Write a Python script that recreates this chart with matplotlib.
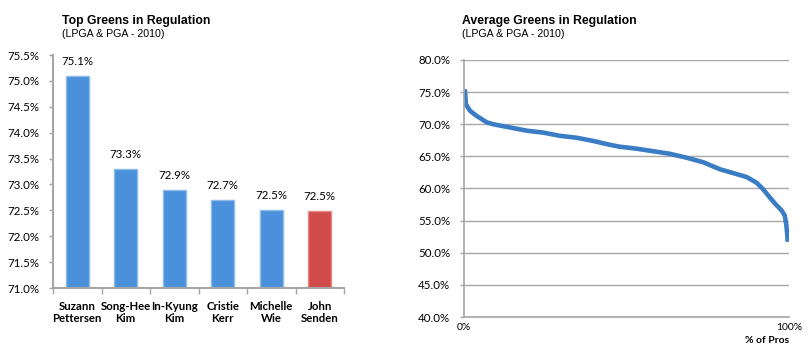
import matplotlib
matplotlib.use("Agg")
import matplotlib.pyplot as plt

# ---- data ----
players = ["Suzann\nPettersen", "Song-Hee\nKim", "In-Kyung\nKim", "Cristie\nKerr", "Michelle\nWie", "John\nSenden"]
gir_top = [75.1, 73.3, 72.9, 72.7, 72.5, 72.48]
bar_labels = ["75.1%", "73.3%", "72.9%", "72.7%", "72.5%", "72.5%"]

pct_pros = [0.0, 0.2, 0.5, 1.75, 3.8, 6.9, 8.9, 13.0, 19.2, 24.3, 29.4, 34.6, 39.7, 44.8, 47.9,
            53.0, 58.2, 63.3, 68.4, 73.5, 78.7, 82.8, 86.9, 90.0, 92.0, 94.1, 95.6, 97.7,
            98.7, 99.2, 99.5, 99.6]
gir_avg = [75.3, 75.2, 73.1, 72.1, 71.3, 70.3, 70.0, 69.6, 69.0, 68.7, 68.2, 67.9, 67.4, 66.8, 66.5,
           66.2, 65.8, 65.4, 64.8, 64.1, 63.0, 62.4, 61.8, 60.9, 59.9, 58.6, 57.7, 56.6,
           55.8, 54.2, 52.6, 51.7]

left_yticks = [71.0, 71.5, 72.0, 72.5, 73.0, 73.5, 74.0, 74.5, 75.0, 75.5]
right_yticks = [40, 45, 50, 55, 60, 65, 70, 75, 80]

BLUE = "#4A90DA"
BLUE_EDGE = "#8DBBEA"
RED = "#D24B4B"
RED_EDGE = "#E58A8A"
LINE = "#3B7DC4"
SPINE = "#A6A6A6"
GRID = "#A8A8A8"

TICKFONT = "Lato"
TITLEFONT = "Liberation Sans"

fig = plt.figure(figsize=(8.10, 3.59), dpi=100)

# ---- left bar chart ----
ax1 = fig.add_axes([53 / 810, 1 - 288 / 359, 291 / 810, 233 / 359])
colors = [BLUE] * 5 + [RED]
edges = [BLUE_EDGE] * 5 + [RED_EDGE]
x = list(range(len(players)))
bars = ax1.bar(x, gir_top, width=0.48, color=colors, edgecolor=edges, linewidth=1.0, bottom=0)
ax1.set_xlim(-0.5, len(players) - 0.5)
ax1.set_yticks(left_yticks)
ax1.set_yticklabels([f"{v:.1f}%" for v in left_yticks], fontsize=8.3, family=TICKFONT)
for b, lab in zip(bars, bar_labels):
    ax1.annotate(lab, (b.get_x() + b.get_width() / 2, b.get_height()),
                 xytext=(0, 6.5), textcoords="offset points", ha="center", va="bottom",
                 fontsize=8.3, family=TICKFONT)
ax1.set_xticks([i - 0.5 for i in range(len(players) + 1)], minor=False)
ax1.set_xticklabels([""] * (len(players) + 1))
ax1.set_xticks(x, minor=True)
ax1.set_xticklabels(players, minor=True, fontsize=8.2, fontweight="bold", family=TICKFONT,
                    linespacing=1.2)
ax1.tick_params(axis="x", which="minor", length=0, pad=9)
ax1.tick_params(axis="x", which="major", length=4, width=1, color=SPINE, direction="out")
ax1.tick_params(axis="y", length=3, width=1, color=SPINE, direction="out", pad=7)
for s in ["top", "right"]:
    ax1.spines[s].set_visible(False)
for s in ["left", "bottom"]:
    ax1.spines[s].set_color(SPINE)
    ax1.spines[s].set_linewidth(1.5)
ax1.set_ylim(71.0, 75.5)

fig.text(62 / 810, 1 - 21 / 359, "Top Greens in Regulation", fontsize=8.85, fontweight="bold",
         family=TITLEFONT, va="center", ha="left")
fig.text(62 / 810, 1 - 34 / 359, "(LPGA & PGA - 2010)", fontsize=7.7,
         family=TITLEFONT, va="center", ha="left")

# ---- right line chart ----
ax2 = fig.add_axes([464.3 / 810, 1 - 317 / 359, 324.7 / 810, 257 / 359])
ax2.plot(pct_pros, gir_avg, color=LINE, linewidth=3.3, solid_capstyle="butt",
         solid_joinstyle="round")
ax2.set_xlim(0, 100)
ax2.set_ylim(40, 80)
ax2.set_yticks(right_yticks)
ax2.set_yticklabels([f"{v:.1f}%" for v in right_yticks], fontsize=8.3, family=TICKFONT)
ax2.set_xticks([0, 100])
ax2.set_xticklabels(["0%", "100%"], fontsize=7.5, family=TICKFONT)
ax2.tick_params(axis="x", length=0, pad=4)
ax2.tick_params(axis="y", length=3, width=1, color=SPINE, direction="out", pad=7)
ax2.grid(axis="y", color=GRID, linewidth=1.0)
ax2.set_axisbelow(True)
for s in ["top", "right"]:
    ax2.spines[s].set_visible(False)
for s in ["left", "bottom"]:
    ax2.spines[s].set_color(SPINE)
    ax2.spines[s].set_linewidth(1.2)
ax2.text(1.0, -0.09, "% of Pros", transform=ax2.transAxes, ha="right", va="center",
         fontsize=7.5, fontweight="bold", family=TICKFONT)

fig.text(462 / 810, 1 - 21 / 359, "Average Greens in Regulation", fontsize=8.85, fontweight="bold",
         family=TITLEFONT, va="center", ha="left")
fig.text(462 / 810, 1 - 34 / 359, "(LPGA & PGA - 2010)", fontsize=7.7,
         family=TITLEFONT, va="center", ha="left")

fig.savefig("out.png", dpi=100, facecolor="white")
